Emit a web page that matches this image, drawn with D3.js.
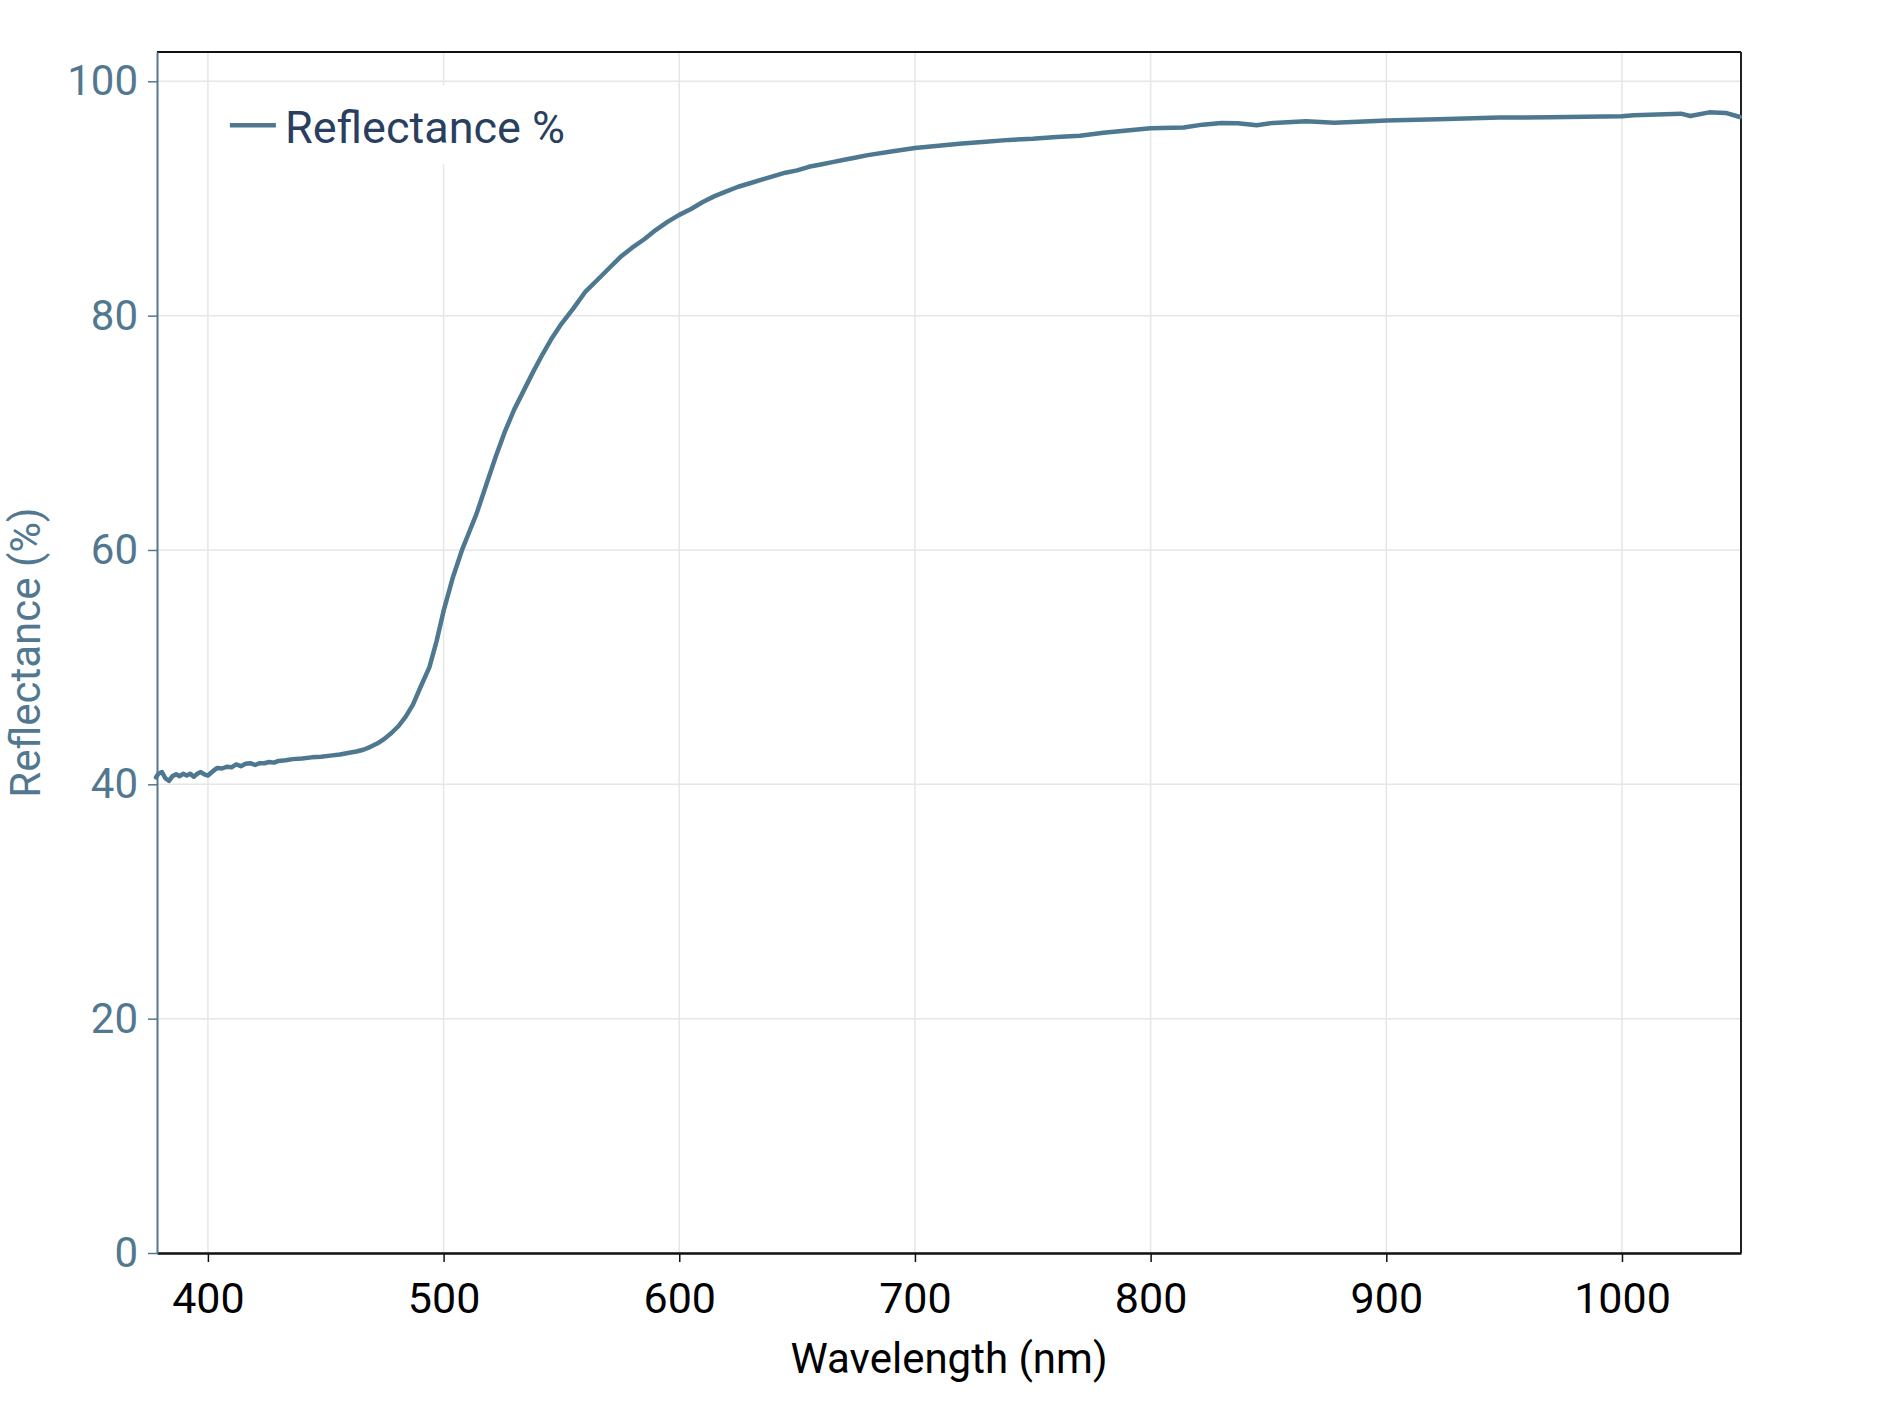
<!DOCTYPE html>
<html>
<head>
<meta charset="utf-8">
<script src="https://cdn.jsdelivr.net/npm/d3@7"></script>
<style>
  html, body { margin: 0; padding: 0; background: #fff; }
  svg { display: block; font-family: Roboto, "Noto Sans", sans-serif; }
</style>
</head>
<body>
<svg id="chart" width="1890" height="1410"></svg>
<script>
// ---- data ----
const wavelengths = [
  378, 379, 380.5, 382, 383.5, 385, 386.5, 388, 389.5, 391, 392.5, 394, 395.5, 397, 398.5, 400,
  402, 404, 406, 408, 410, 412, 414, 416, 418, 420, 422, 424, 426, 428, 430, 433, 436, 440,
  444, 448, 452, 456, 460, 463, 466, 469, 472, 475, 478, 481, 484, 487, 490, 494, 497, 500,
  504, 508, 511, 514, 518, 522, 526, 530, 534, 538, 542, 546, 550, 555, 560, 565, 570, 575,
  580, 585, 590, 595, 600, 605, 610, 615, 620, 625, 630, 635, 640, 645, 650, 655, 660, 665,
  670, 675, 680, 690, 700, 710, 720, 730, 740, 750, 760, 770, 780, 790, 800, 814, 822, 830,
  837, 845, 852, 866, 878, 893, 900, 922, 948, 969, 1000, 1005, 1025, 1029, 1037, 1044, 1050
];
const reflectance = [
  40.6, 40.9, 41.05, 40.5, 40.3, 40.7, 40.85, 40.7, 40.9, 40.75, 40.9, 40.65, 40.9, 41.05, 40.85, 40.75,
  41.1, 41.4, 41.35, 41.5, 41.45, 41.7, 41.55, 41.75, 41.8, 41.65, 41.8, 41.8, 41.9, 41.85, 42.0, 42.05, 42.15, 42.2,
  42.3, 42.35, 42.45, 42.55, 42.7, 42.8, 42.95, 43.2, 43.5, 43.9, 44.4, 45.0, 45.8, 46.8, 48.2, 50.0, 52.2, 54.8,
  57.7, 60.1, 61.6, 63.1, 65.5, 67.9, 70.1, 72.0, 73.6, 75.2, 76.7, 78.1, 79.3, 80.6, 82.0, 83.0, 84.0, 85.0,
  85.8, 86.5, 87.3, 88.0, 88.6, 89.1, 89.7, 90.2, 90.6, 91.0, 91.3, 91.6, 91.9, 92.2, 92.4, 92.7, 92.9, 93.1,
  93.3, 93.5, 93.7, 94.0, 94.3, 94.5, 94.7, 94.85, 95.0, 95.1, 95.25, 95.35, 95.6, 95.8, 96.0, 96.05, 96.3, 96.45,
  96.42, 96.25, 96.45, 96.58, 96.47, 96.6, 96.65, 96.75, 96.9, 96.93, 97.02, 97.1, 97.24, 97.04, 97.35, 97.3, 96.95
];
const xTicks = [400, 500, 600, 700, 800, 900, 1000];
const yTicks = [0, 20, 40, 60, 80, 100];
const seriesName = "Reflectance %";
const xTitle = "Wavelength (nm)";
const yTitle = "Reflectance (%)";

// ---- layout ----
const W = 1890, H = 1410;
const margin = { left: 157, right: 149, top: 52, bottom: 157 };
const pw = W - margin.left - margin.right;
const ph = H - margin.top - margin.bottom;
const lineColor = "#4e7890";
const axisBlue = "#52788f";

const svg = d3.select("#chart");
const g = svg.append("g").attr("transform", `translate(${margin.left},${margin.top})`);

const x = d3.scaleLinear().domain([378.4, 1050.5]).range([0, pw]);
const y = d3.scaleLinear().domain([0, 102.5]).range([ph, 0]);

// gridlines
g.append("g").selectAll("line").data(xTicks).join("line")
  .attr("x1", d => x(d)).attr("x2", d => x(d))
  .attr("y1", 0).attr("y2", ph)
  .attr("stroke", "#e6e6e6").attr("stroke-width", 1.5);
g.append("g").selectAll("line").data(yTicks).join("line")
  .attr("x1", 0).attr("x2", pw)
  .attr("y1", d => y(d)).attr("y2", d => y(d))
  .attr("stroke", "#e6e6e6").attr("stroke-width", 1.5);

// legend background (covers gridlines)
const legend = g.append("g").attr("transform", `translate(${x(400) + 15},${y(100) + 4})`);
legend.append("rect").attr("x", 0).attr("y", 0).attr("width", 360).attr("height", 79).attr("fill", "#fff");

// frame top and right
g.append("line").attr("x1", 0).attr("x2", pw).attr("y1", 0).attr("y2", 0)
  .attr("stroke", "#111").attr("stroke-width", 2);
g.append("line").attr("x1", pw).attr("x2", pw).attr("y1", 0).attr("y2", ph)
  .attr("stroke", "#222").attr("stroke-width", 2);

// data line
const data = wavelengths.map((w, i) => ({ w, r: reflectance[i] }));
const line = d3.line().x(d => x(d.w)).y(d => y(d.r));
g.append("path").datum(data)
  .attr("fill", "none").attr("stroke", lineColor).attr("stroke-width", 4.5)
  .attr("stroke-linejoin", "round").attr("stroke-linecap", "round")
  .attr("d", line);

// x axis
const xAxis = g.append("g").attr("transform", `translate(0,${ph})`)
  .call(d3.axisBottom(x).tickValues(xTicks).tickFormat(d3.format("d"))
    .tickSize(9).tickPadding(20).tickSizeOuter(0));
xAxis.select(".domain").attr("stroke", "#111").attr("stroke-width", 2.5);
xAxis.selectAll(".tick line").attr("stroke", "#111").attr("stroke-width", 1.5);
xAxis.selectAll(".tick text").attr("fill", "#000").style("font-size", "43px").style("font-family", "Roboto");

// y axis
const yAxis = g.append("g")
  .call(d3.axisLeft(y).tickValues(yTicks).tickFormat(d3.format("d"))
    .tickSize(9).tickPadding(10).tickSizeOuter(0));
yAxis.select(".domain").attr("stroke", axisBlue).attr("stroke-width", 2);
yAxis.selectAll(".tick line").attr("stroke", axisBlue).attr("stroke-width", 1.5);
yAxis.selectAll(".tick text").attr("fill", axisBlue).style("font-size", "42px").style("font-family", "Roboto");

// legend contents
legend.append("line").attr("x1", 7).attr("x2", 53).attr("y1", 40).attr("y2", 40)
  .attr("stroke", lineColor).attr("stroke-width", 4.5);
legend.append("text").attr("x", 62).attr("y", 58)
  .attr("fill", "#2a3f5f").style("font-size", "45px").style("font-family", "Roboto")
  .text(seriesName);

// axis titles
svg.append("text")
  .attr("x", margin.left + pw / 2).attr("y", 1373)
  .attr("text-anchor", "middle").attr("fill", "#000")
  .style("font-size", "42px").style("font-family", "Roboto")
  .text(xTitle);
svg.append("text")
  .attr("transform", `translate(40,${margin.top + ph / 2}) rotate(-90)`)
  .attr("text-anchor", "middle").attr("fill", axisBlue)
  .style("font-size", "42px").style("font-family", "Roboto")
  .text(yTitle);
</script>
</body>
</html>
